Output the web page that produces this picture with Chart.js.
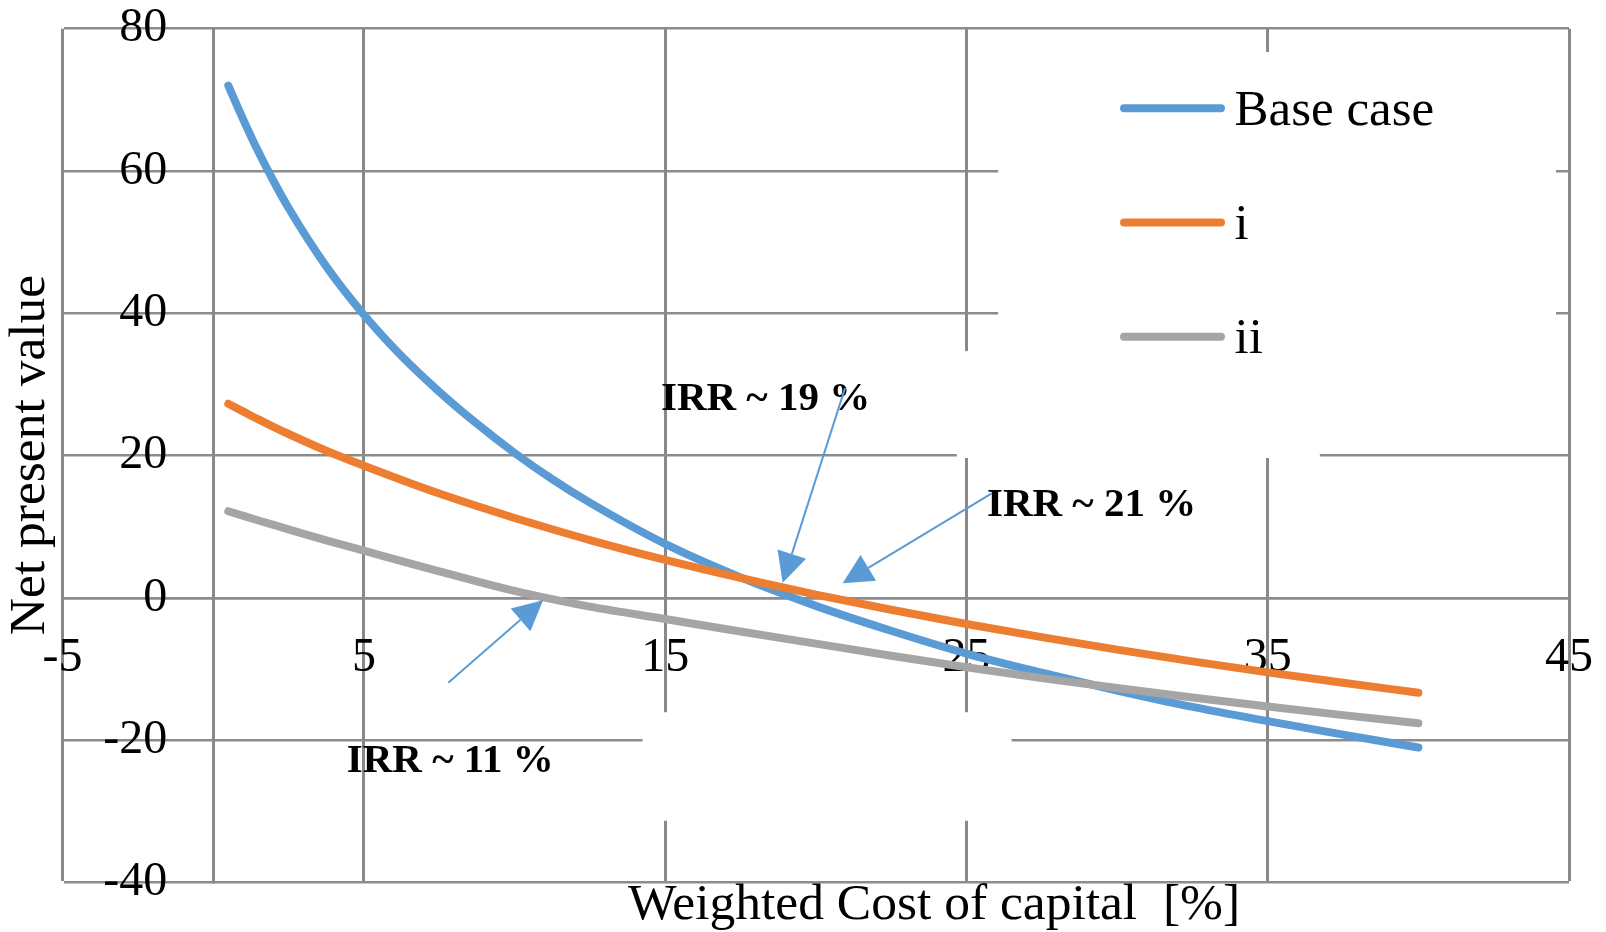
<!DOCTYPE html>
<html>
<head>
<meta charset="utf-8">
<script src="https://cdn.jsdelivr.net/npm/chart.js@4.4.1/dist/chart.umd.min.js"></script>
<style>
  html, body { margin: 0; padding: 0; background: #ffffff; }
  #wrap { width: 1606px; height: 932px; position: relative; }
</style>
</head>
<body>
<div id="wrap"><canvas id="c"></canvas></div>
<script>
// ---------------- data ----------------
const waccValues = [0.5, 1, 1.5, 2, 2.5, 3.75, 5, 6.25, 7.5, 8.75, 10, 11.25, 12.5, 15, 17.5, 20, 22.5, 25, 27.5, 30, 32.5, 35, 37.5, 40];
const baseCase   = [72, 67.2, 62.7, 58.6, 54.8, 46.6, 39.8, 34.0, 29.0, 24.5, 20.4, 16.7, 13.4, 7.6, 2.9, -1.1, -4.6, -7.8, -10.5, -13.0, -15.3, -17.3, -19.2, -21.0];
const caseI      = [27.3, 26.2, 25.1, 24.05, 23.05, 20.7, 18.6, 16.6, 14.7, 12.94, 11.25, 9.66, 8.15, 5.36, 2.82, 0.49, -1.65, -3.65, -5.5, -7.25, -8.9, -10.45, -11.9, -13.3];
const caseII     = [12.2, 11.55, 10.9, 10.27, 9.65, 8.1, 6.65, 5.18, 3.75, 2.35, 1.02, -0.15, -1.2, -2.95, -4.7, -6.4, -8.1, -9.72, -11.25, -12.65, -13.97, -15.25, -16.45, -17.6];
const seriesNames = ['Base case', 'i', 'ii'];
const xTickValues = [-5, 5, 15, 25, 35, 45];
const yTickValues = [-40, -20, 0, 20, 40, 60, 80];
const xAxisTitle = 'Weighted Cost of capital  [%]';
const yAxisTitle = 'Net present value';
const irrTexts = ['IRR ~ 19 %', 'IRR ~ 21 %', 'IRR ~ 11 %'];

// ---------------- styles / layout ----------------
const FONT = "'Liberation Serif','Times New Roman',serif";
Chart.defaults.font.family = FONT;
Chart.defaults.color = '#000000';
const seriesColors = ['#5B9BD5', '#ED7D31', '#A5A5A5'];
const VGRID = '#898989';
const HGRID = '#8c8c8c';
const ARROW = '#5B9BD5';
const PLOT_AREA = { left: 62.6, top: 28.7, right: 1569, bottom: 882.7 };

// annotation placement in data coordinates
const annotationSpecs = [
  { text: irrTexts[0], tx: 14.86, ty: 26.4, from: [20.97, 29.5], to: [18.9, 2.16] },
  { text: irrTexts[1], tx: 25.68, ty: 11.5, from: [25.84, 14.7], to: [20.89, 2.07] },
  { text: irrTexts[2], tx: 4.43, ty: -24.4, from: [7.80, -11.9], to: [10.95, -0.3] }
];
// white background boxes of the original text boxes (data coordinates)
const maskBoxes = [
  { x0: 26.05, x1: 44.57, y0: 21.5, y1: 76.73 },
  { x0: 24.68, x1: 36.73, y0: 19.68, y1: 34.7 },
  { x0: 14.25, x1: 26.5, y0: -31.3, y1: -16.05 }
];

function toPoints(vals) { return waccValues.map((x, k) => ({ x: x, y: vals[k] })); }

// fixes the plot area and puts both axes through the origin
const areaPlugin = {
  id: 'area',
  afterLayout(chart) {
    const A = PLOT_AREA;
    chart.chartArea = { left: A.left, top: A.top, right: A.right, bottom: A.bottom,
                        width: A.right - A.left, height: A.bottom - A.top };
    const x = chart.scales.x, y = chart.scales.y;
    x.left = A.left; x.right = A.right; x.width = A.right - A.left;
    y.top = A.top; y.bottom = A.bottom; y.height = A.bottom - A.top;
    x.configure(); y.configure();
    const x0 = x.getPixelForValue(0), y0 = y.getPixelForValue(0);
    y.right = x0; y.left = x0 - 120; y.width = 120;
    x.top = y0; x.bottom = y0 + 90; x.height = 90;
  }
};

const decor = {
  id: 'decor',
  beforeDatasetsDraw(chart) {
    const { ctx, scales: { x, y } } = chart;
    ctx.save();
    ctx.fillStyle = '#ffffff';
    for (const b of maskBoxes) {
      const l = x.getPixelForValue(b.x0), r = x.getPixelForValue(b.x1);
      const t = y.getPixelForValue(b.y1), bt = y.getPixelForValue(b.y0);
      ctx.fillRect(l, t, r - l, bt - t);
    }
    ctx.restore();
  },
  afterDatasetsDraw(chart) {
    const { ctx, scales: { x, y } } = chart;
    ctx.save();
    // legend
    const lx0 = 1124, lx1 = 1221, tx = 1234.5, row0 = 108.3, step = 114.2;
    chart.data.datasets.forEach((ds, i) => {
      const ry = row0 + i * step;
      ctx.strokeStyle = ds.borderColor;
      ctx.lineWidth = 8;
      ctx.lineCap = 'round';
      ctx.beginPath(); ctx.moveTo(lx0, ry); ctx.lineTo(lx1, ry); ctx.stroke();
      ctx.fillStyle = '#000';
      ctx.font = '51px ' + FONT;
      ctx.textAlign = 'left';
      ctx.textBaseline = 'alphabetic';
      ctx.fillText(ds.label, tx, ry + 16.7);
    });
    // annotations
    for (const a of annotationSpecs) {
      ctx.fillStyle = '#000';
      ctx.font = 'bold 41px ' + FONT;
      ctx.textAlign = 'left';
      ctx.textBaseline = 'alphabetic';
      ctx.fillText(a.text, x.getPixelForValue(a.tx), y.getPixelForValue(a.ty));
    }
    for (const a of annotationSpecs) {
      const x0 = x.getPixelForValue(a.from[0]), y0 = y.getPixelForValue(a.from[1]);
      const x1 = x.getPixelForValue(a.to[0]), y1 = y.getPixelForValue(a.to[1]);
      const ang = Math.atan2(y1 - y0, x1 - x0);
      const hl = 30, hw = 15;
      const bx = x1 - hl * Math.cos(ang), by = y1 - hl * Math.sin(ang);
      ctx.strokeStyle = ARROW; ctx.lineWidth = 2; ctx.lineCap = 'butt';
      ctx.beginPath(); ctx.moveTo(x0, y0); ctx.lineTo(bx, by); ctx.stroke();
      ctx.fillStyle = ARROW;
      ctx.beginPath();
      ctx.moveTo(x1, y1);
      ctx.lineTo(bx + hw * Math.sin(ang), by - hw * Math.cos(ang));
      ctx.lineTo(bx - hw * Math.sin(ang), by + hw * Math.cos(ang));
      ctx.closePath(); ctx.fill();
    }
    // axis titles
    ctx.fillStyle = '#000';
    ctx.font = '51.5px ' + FONT;
    ctx.textAlign = 'center';
    ctx.textBaseline = 'alphabetic';
    ctx.fillText(xAxisTitle, 934, 919);
    ctx.translate(44, 455);
    ctx.rotate(-Math.PI / 2);
    ctx.fillText(yAxisTitle, 0, 0);
    ctx.restore();
  }
};

const datasets = [baseCase, caseI, caseII].map((vals, i) => ({
  label: seriesNames[i],
  data: toPoints(vals),
  showLine: true,
  borderColor: seriesColors[i],
  backgroundColor: seriesColors[i],
  borderWidth: 8,
  borderCapStyle: 'round',
  borderJoinStyle: 'round',
  pointRadius: 0,
  pointHoverRadius: 0,
  cubicInterpolationMode: 'monotone',
  order: 3 - i
}));

new Chart(document.getElementById('c'), {
  type: 'scatter',
  data: { datasets: datasets },
  options: {
    responsive: true,
    maintainAspectRatio: false,
    animation: false,
    events: [],
    layout: { padding: 0 },
    plugins: { legend: { display: false }, tooltip: { enabled: false }, title: { display: false } },
    scales: {
      x: {
        type: 'linear',
        min: -5, max: 45,
        position: 'bottom',
        afterBuildTicks: (s) => { s.ticks = xTickValues.map(v => ({ value: v })); },
        grid: { color: VGRID, lineWidth: 3, drawTicks: false },
        border: { display: true, color: HGRID, width: 2.5 },
        ticks: { font: { size: 48, lineHeight: 1 }, color: '#000', padding: 36, maxRotation: 0, minRotation: 0, autoSkip: false }
      },
      y: {
        type: 'linear',
        min: -40, max: 80,
        position: 'left',
        afterBuildTicks: (s) => { s.ticks = yTickValues.map(v => ({ value: v })); },
        grid: { color: HGRID, lineWidth: 2.5, drawTicks: false },
        border: { display: true, color: VGRID, width: 3 },
        ticks: { font: { size: 48, lineHeight: 1 }, color: '#000', padding: 46, autoSkip: false }
      }
    }
  },
  plugins: [areaPlugin, decor]
});
</script>
</body>
</html>
